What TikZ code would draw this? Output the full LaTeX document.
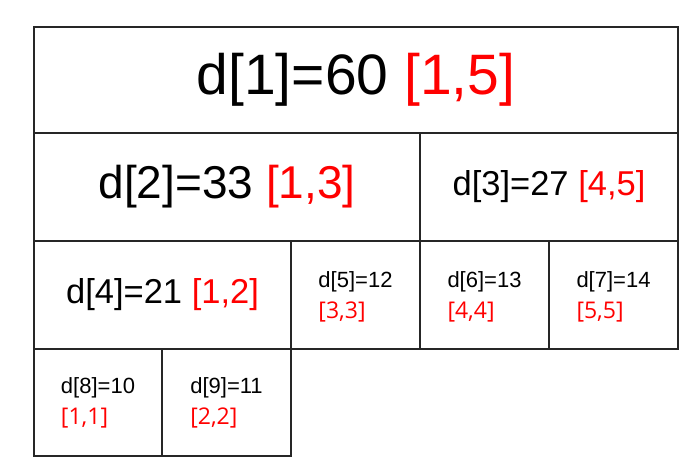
\documentclass[tikz,border=0pt]{standalone}
\usepackage{fontspec}
\setmainfont{Liberation Sans}
\newfontfamily\redfont{Open Sans}
\begin{document}
\begin{tikzpicture}[x=1pt,y=-1pt,
  cellbox/.style={draw=black!85, line width=1.8pt, inner sep=0pt, outer sep=0pt},
  big/.style={font=\fontsize{57}{60}\selectfont},
  mid/.style={font=\fontsize{46}{50}\selectfont},
  med/.style={font=\fontsize{34.5}{38}\selectfont},
  small/.style={font=\fontsize{22}{31}\selectfont, align=left},
  rng/.style={text=red}]
\useasboundingbox (0,0) rectangle (700,471);
% cells
\draw[cellbox] (34,27) rectangle (678,133);
\draw[cellbox] (34,133) rectangle (420,241);
\draw[cellbox] (420,133) rectangle (678,241);
\draw[cellbox] (34,241) rectangle (291,349);
\draw[cellbox] (291,241) rectangle (420,349);
\draw[cellbox] (420,241) rectangle (549,349);
\draw[cellbox] (549,241) rectangle (678,349);
\draw[cellbox] (34,349) rectangle (162,456);
\draw[cellbox] (162,349) rectangle (291,456);
% labels
\node[big] (t1) at (356,80) {d[1]=60 \textcolor{red}{[1,5]}};
\node[mid] (t2) at (227,187) {d[2]=33 \textcolor{red}{[1,3]}};
\node[med] (t3) at (549,187) {d[3]=27 \textcolor{red}{[4,5]}};
\node[med] (t4) at (162.5,295) {d[4]=21 \textcolor{red}{[1,2]}};
\node[small] (t5) at (355.5,297) {d[5]=12\\{\redfont\fontsize{23}{31}\selectfont\textcolor{red}{[3,3]}}};
\node[small] (t6) at (484.5,297) {d[6]=13\\{\redfont\fontsize{23}{31}\selectfont\textcolor{red}{[4,4]}}};
\node[small] (t7) at (613.5,297) {d[7]=14\\{\redfont\fontsize{23}{31}\selectfont\textcolor{red}{[5,5]}}};
\node[small] (t8) at (98,403) {d[8]=10\\{\redfont\fontsize{23}{31}\selectfont\textcolor{red}{[1,1]}}};
\node[small] (t9) at (226.5,403) {d[9]=11\\{\redfont\fontsize{23}{31}\selectfont\textcolor{red}{[2,2]}}};
\end{tikzpicture}
\end{document}
